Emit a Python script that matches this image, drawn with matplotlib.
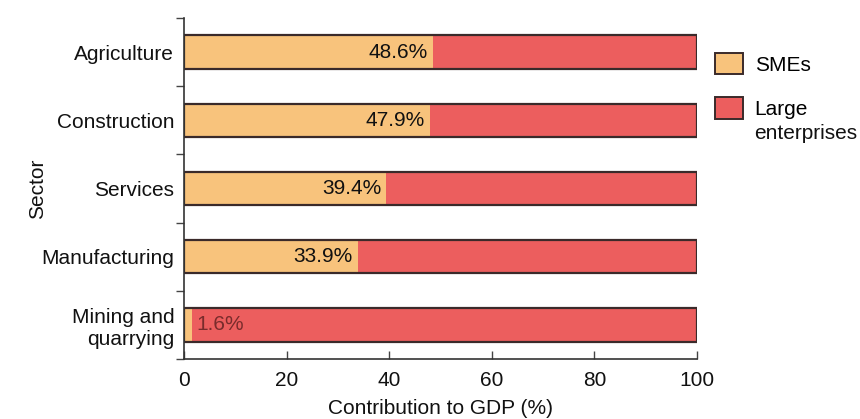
import numpy as np
import matplotlib.pyplot as plt
from matplotlib.patches import Patch

plt.rcParams['font.family'] = ['Liberation Sans', 'DejaVu Sans']

# sectors top to bottom, SME share of GDP contribution (%)
sectors = ['Agriculture', 'Construction', 'Services', 'Manufacturing', 'Mining and\nquarrying']
sme_share = [48.6, 47.9, 39.4, 33.9, 1.6]
large_share = [100 - v for v in sme_share]
xticks = [0, 20, 40, 60, 80, 100]

SME_COL = '#f8c37c'
LARGE_COL = '#ec5e5e'
EDGE = '#3a2a2a'
FS = 15

fig = plt.figure(figsize=(8.6, 4.19), dpi=100)
ax = fig.add_axes([0.214, 0.1432, 0.5965, 0.8138])

ypos = np.arange(len(sectors))[::-1]   # first sector at the top
h = 0.49

ax.barh(ypos, sme_share, height=h, color=SME_COL, linewidth=0)
ax.barh(ypos, large_share, left=sme_share, height=h, color=LARGE_COL, linewidth=0)
# one outline round each whole bar
ax.barh(ypos, [100] * len(sectors), height=h, fill=False, edgecolor=EDGE, linewidth=1.6)

for y, v in zip(ypos, sme_share):
    if v > 10:
        ax.text(v - 1.0, y, f'{v}%', ha='right', va='center', fontsize=FS, color='#111111')
    else:
        ax.text(v + 0.8, y, f'{v}%', ha='left', va='center', fontsize=FS, color='#7a2c2c')

ax.set_xlim(0, 100)
ax.set_ylim(-0.5, len(sectors) - 0.5)
ax.set_xticks(xticks)
ax.set_yticks(ypos)
ax.set_yticklabels(sectors)
ax.set_yticks(np.arange(-0.5, len(sectors), 1.0), minor=True)

ax.tick_params(axis='y', which='major', length=0, pad=7, labelsize=FS, labelcolor='#111111')
ax.tick_params(axis='y', which='minor', direction='out', length=6, width=1, color='#444444')
ax.tick_params(axis='x', which='major', direction='in', length=6, width=1, color='#444444',
               pad=9, labelsize=FS, labelcolor='#111111')

for side in ['top', 'right']:
    ax.spines[side].set_visible(False)
for side in ['left', 'bottom']:
    ax.spines[side].set_color('#333333')
    ax.spines[side].set_linewidth(1.2)

ax.set_xlabel('Contribution to GDP (%)', fontsize=FS, color='#111111', labelpad=6)
ax.set_ylabel('Sector', fontsize=FS, color='#111111')
ax.yaxis.set_label_coords(-0.268, 0.5)

handles = [Patch(facecolor=SME_COL, edgecolor=EDGE, linewidth=1.4),
           Patch(facecolor=LARGE_COL, edgecolor=EDGE, linewidth=1.4)]
leg = ax.legend(handles, ['SMEs', 'Large'], loc='upper left',
                bbox_to_anchor=(0.8314, 0.874), bbox_transform=fig.transFigure,
                frameon=False, fontsize=FS, handlelength=1.35, handleheight=1.2,
                handletextpad=0.55, labelspacing=1.1, borderpad=0, borderaxespad=0)

# second line of the "Large enterprises" label, put under "Large"
fig.canvas.draw()
bb = leg.get_texts()[1].get_window_extent().transformed(fig.transFigure.inverted())
fig.text(bb.x0, bb.y0 - 0.012, 'enterprises', ha='left', va='top',
         fontsize=FS, color='#111111')

fig.savefig('out.png', dpi=100, facecolor='white')
